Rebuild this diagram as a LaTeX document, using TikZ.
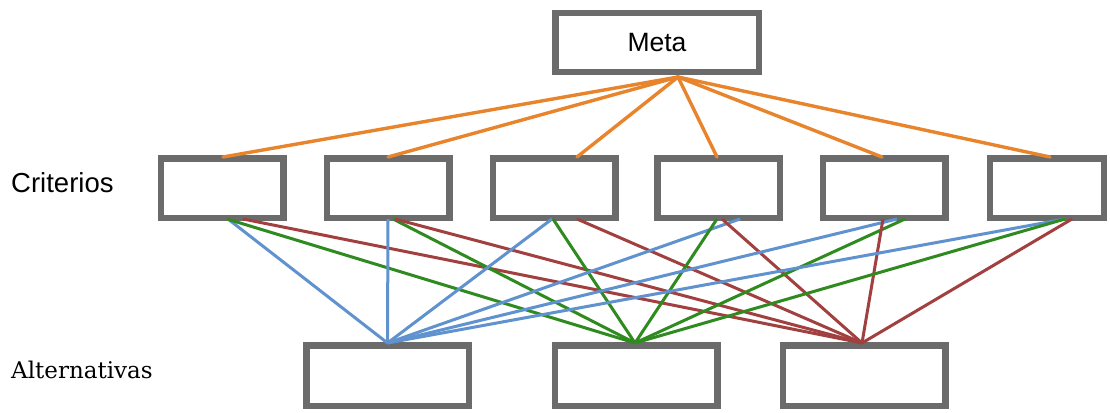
\documentclass[tikz,border=0pt]{standalone}
\usepackage{fontspec}
\setmainfont{Liberation Sans}
\newfontfamily\labelserif{DejaVu Serif}
\usetikzlibrary{shadows}
\definecolor{boxgray}{HTML}{6B6B6B}
\definecolor{linkorange}{HTML}{E8842C}
\definecolor{linkblue}{HTML}{5F92CE}
\definecolor{linkgreen}{HTML}{2F8A1F}
\definecolor{linkred}{HTML}{A2403F}
\begin{document}
\begin{tikzpicture}[x=1pt,y=-1pt,
  box/.style={draw=boxgray, line width=6.5pt, fill=white, inner sep=0pt,
    drop shadow={shadow xshift=1.5pt, shadow yshift=-2pt, opacity=0.22, fill=black}},
  metabox/.style={box, minimum width=203.5pt, minimum height=58.5pt, font=\fontsize{26.5}{30}\selectfont},
  critbox/.style={box, minimum width=122.5pt, minimum height=59.5pt},
  altbox/.style={box, minimum width=162.5pt, minimum height=60.5pt},
  goal/.style={linkorange, line width=3.4pt},
  toA/.style={linkblue, line width=3pt},
  toB/.style={linkgreen, line width=3pt},
  toC/.style={linkred, line width=3pt},
  rowlabel/.style={anchor=base west, inner sep=0pt}]
\useasboundingbox[fill=white] (0,0) rectangle (1110,412);

% goal
\node[metabox] (meta) at (657,42.5) {Meta};

% criteria
\node[critbox] (c1) at (222,188) {};
\node[critbox] (c2) at (388,188) {};
\node[critbox] (c3) at (554,188) {};
\node[critbox] (c4) at (718.5,188) {};
\node[critbox] (c5) at (884,188) {};
\node[critbox, minimum width=114pt] (c6) at (1047,188) {};

% alternatives
\node[altbox] (a1) at (387.5,375.5) {};
\node[altbox] (a2) at (636,375.5) {};
\node[altbox] (a3) at (864,375.5) {};

% row labels
\node[rowlabel, font=\fontsize{27.5}{30}\selectfont] (lc) at (11,192) {Criterios};
\node[rowlabel, font=\labelserif\fontsize{23}{27}\selectfont] (la) at (11,378.5) {Alternativas};

% goal -> criteria
\foreach \c/\dx in {c1/1, c2/0, c3/23, c4/-1.5, c5/-2, c6/3}
  \draw[goal, line cap=round] ([xshift=21pt,yshift=-2pt]meta.south) -- ([xshift=\dx pt,yshift=-2pt]\c.north);

% criteria -> alternatives
\foreach \c/\db/\dg/\dr in {c1/6/5/21, c2/0/5/7, c3/-2/-1/23, c4/21.5/-1.5/3.5, c5/13/21/-1, c6/18/18/25} {
  \draw[toA] ([xshift=\db pt,yshift=2pt]\c.south) -- ([yshift=-1pt]a1.north);
  \draw[toB] ([xshift=\dg pt,yshift=2pt]\c.south) -- ([xshift=-1pt,yshift=-1pt]a2.north);
  \draw[toC] ([xshift=\dr pt,yshift=2pt]\c.south) -- ([xshift=-2pt,yshift=-1pt]a3.north);
}
\end{tikzpicture}
\end{document}
